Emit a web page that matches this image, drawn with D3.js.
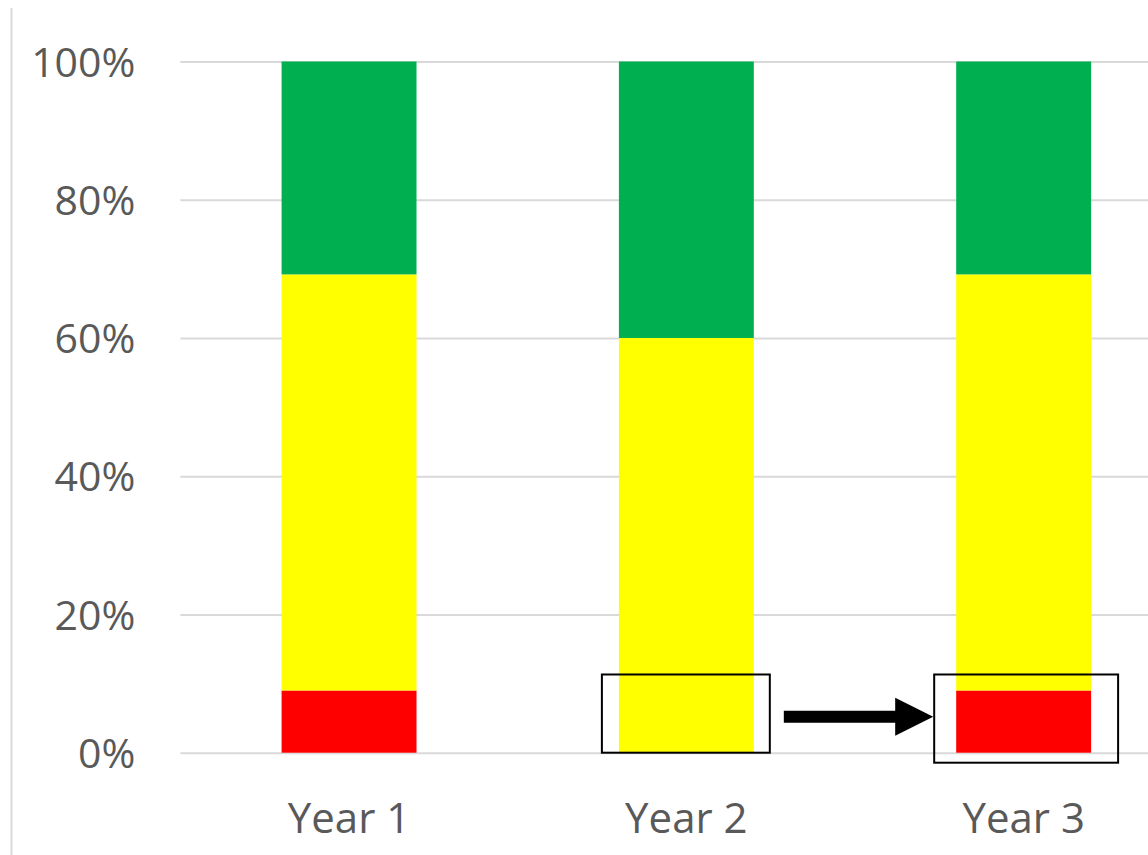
<!DOCTYPE html>
<html>
<head>
<meta charset="utf-8">
<script src="https://cdn.jsdelivr.net/npm/d3@7"></script>
<style>
  html, body { margin: 0; padding: 0; background: #fff; }
  svg { display: block; }
  .tick text { font-family: "Open Sans", sans-serif; fill: #595959; }
</style>
</head>
<body>
<svg id="chart" width="1148" height="855"></svg>
<script>
// Stacked 100% column data (share of total per year)
const categories = ["Year 1", "Year 2", "Year 3"];
const seriesNames = ["Red", "Yellow", "Green"];
const redValues = [0.09, 0.00, 0.09];
const yellowValues = [0.602, 0.60, 0.602];
const greenValues = [0.308, 0.40, 0.308];
const yTicks = [0, 0.2, 0.4, 0.6, 0.8, 1.0];
const seriesColors = ["#FF0000", "#FFFF00", "#00B050"];

const rows = categories.map((c, i) => ({
  category: c, Red: redValues[i], Yellow: yellowValues[i], Green: greenValues[i]
}));

const svg = d3.select("#chart");
const plot = { left: 180.4, right: 1192.3, top: 61.5, bottom: 752.7 };

const x = d3.scaleBand()
  .domain(categories)
  .range([plot.left, plot.right])
  .paddingInner(0.6)
  .paddingOuter(0.3);

const y = d3.scaleLinear()
  .domain([0, 1])
  .range([plot.bottom, plot.top]);

// Chart-area left border
svg.append("line")
  .attr("x1", 11.5).attr("x2", 11.5)
  .attr("y1", 8).attr("y2", 855)
  .attr("stroke", "#d9d9d9").attr("stroke-width", 2);

// Value axis with horizontal gridlines
const yAxis = svg.append("g")
  .attr("transform", `translate(${plot.left},0)`)
  .call(d3.axisLeft(y)
    .tickValues(yTicks)
    .tickFormat(d3.format(".0%"))
    .tickSize(-(plot.right - plot.left))
    .tickPadding(45));
yAxis.select(".domain").remove();
yAxis.selectAll(".tick line").attr("stroke", "#d9d9d9").attr("stroke-width", 2);
yAxis.selectAll(".tick text")
  .attr("font-size", 41)
  .attr("dy", "0.36em");

// Stacked columns
const stack = d3.stack().keys(seriesNames);
const layers = stack(rows);

svg.append("g")
  .selectAll("g")
  .data(layers)
  .join("g")
  .attr("fill", (d, i) => seriesColors[i])
  .selectAll("rect")
  .data(d => d)
  .join("rect")
  .attr("x", d => x(d.data.category))
  .attr("width", x.bandwidth())
  .attr("y", d => y(d[1]))
  .attr("height", d => y(d[0]) - y(d[1]));

// Category axis labels
const xAxis = svg.append("g")
  .attr("transform", `translate(0,${plot.bottom})`)
  .call(d3.axisBottom(x).tickSize(0).tickPadding(50));
xAxis.select(".domain").remove();
xAxis.selectAll(".tick text")
  .attr("font-size", 42)
  .attr("dy", "0.71em");

// Callout: highlight the red segment appearing from Year 2 to Year 3
const bw = x.bandwidth();
const boxTop = y(redValues[2]) - 16;
const b2 = { x0: x("Year 2") - 17, x1: x("Year 2") + bw + 16, y0: boxTop, y1: y(0) };
const b3 = { x0: x("Year 3") - 22, x1: x("Year 3") + bw + 27, y0: boxTop, y1: y(0) + 10 };

[b2, b3].forEach(b => {
  svg.append("rect")
    .attr("x", b.x0).attr("y", b.y0)
    .attr("width", b.x1 - b.x0).attr("height", b.y1 - b.y0)
    .attr("fill", "none").attr("stroke", "#000").attr("stroke-width", 2);
});

const arrowY = y(0) - 36;
const arrowStart = b2.x1 + 14;
const arrowTip = b3.x0 - 1;
const headLen = 38, headHalf = 19, shaftHalf = 6;
svg.append("path")
  .attr("fill", "#000")
  .attr("d", [
    `M${arrowStart},${arrowY - shaftHalf}`,
    `L${arrowTip - headLen},${arrowY - shaftHalf}`,
    `L${arrowTip - headLen},${arrowY - headHalf}`,
    `L${arrowTip},${arrowY}`,
    `L${arrowTip - headLen},${arrowY + headHalf}`,
    `L${arrowTip - headLen},${arrowY + shaftHalf}`,
    `L${arrowStart},${arrowY + shaftHalf}`, "Z"
  ].join(" "));
</script>
</body>
</html>
